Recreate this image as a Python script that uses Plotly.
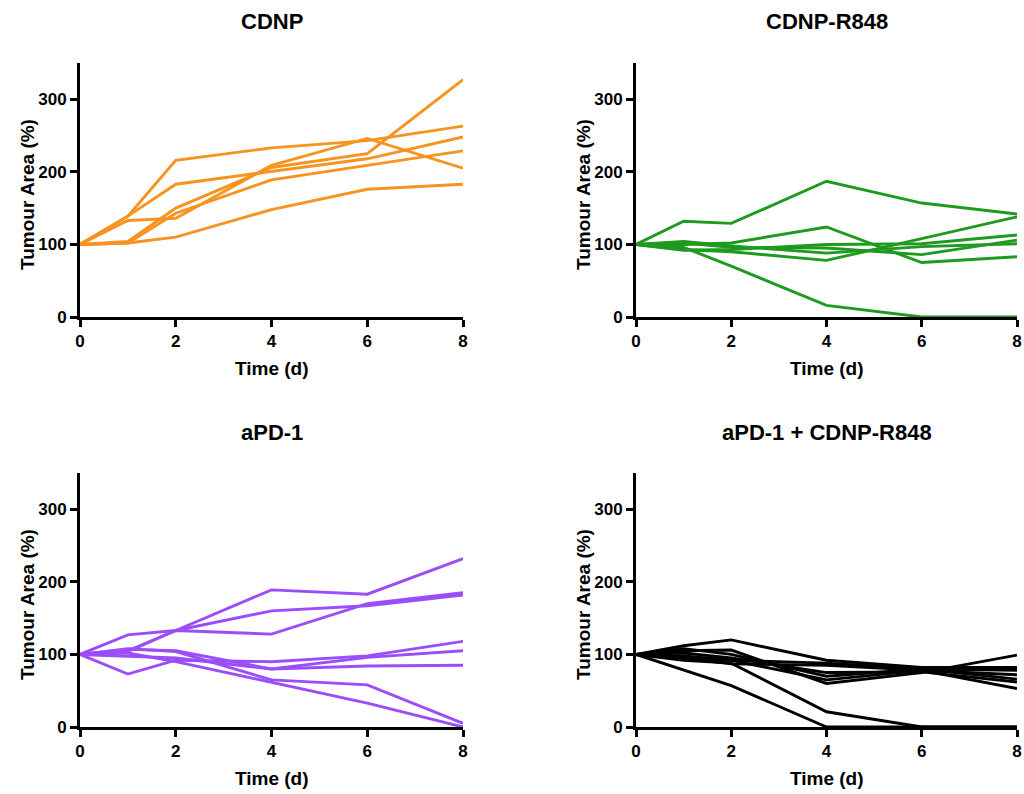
import plotly.graph_objects as go

time_days = [0, 1, 2, 4, 6, 8]

cdnp = [
    [100, 139, 216, 233, 243, 263],
    [100, 139, 183, 201, 218, 248],
    [100, 133, 136, 209, 246, 205],
    [100, 104, 150, 206, 225, 327],
    [100, 102, 143, 189, 209, 229],
    [100, 102, 110, 148, 176, 183],
]

cdnp_r848 = [
    [100, 132, 129, 187, 157, 142],
    [100, 96, 70, 16, 0, 0],
    [100, 100, 102, 124, 75, 83],
    [100, 93, 90, 78, 108, 138],
    [100, 102, 96, 95, 86, 106],
    [100, 92, 93, 100, 101, 113],
    [100, 104, 98, 88, 97, 101],
]

apd1 = [
    [100, 105, 133, 189, 183, 232],
    [100, 127, 133, 128, 170, 185],
    [100, 104, 133, 160, 167, 182],
    [100, 73, 92, 90, 98, 118],
    [100, 97, 95, 80, 96, 105],
    [100, 107, 105, 80, 84, 85],
    [100, 108, 104, 65, 58, 5],
    [100, 102, 90, 62, 33, 0],
]

apd1_cdnp_r848 = [
    [100, 112, 120, 92, 82, 82],
    [100, 79, 57, 0, 0, 0],
    [100, 92, 88, 21, 0, 0],
    [100, 105, 106, 60, 75, 99],
    [100, 98, 92, 65, 78, 53],
    [100, 102, 95, 75, 76, 62],
    [100, 95, 87, 85, 78, 72],
    [100, 108, 100, 70, 80, 78],
    [100, 94, 92, 88, 80, 66],
]

panel_titles = ["CDNP", "CDNP-R848", "aPD-1", "aPD-1 + CDNP-R848"]
panel_colors = ["#F7931E", "#1E9A1E", "#9B4DFA", "#000000"]
panel_data = [cdnp, cdnp_r848, apd1, apd1_cdnp_r848]
x_ticks = [0, 2, 4, 6, 8]
y_ticks = [0, 100, 200, 300]

W, H = 1024, 794
# pixel boxes of plot areas: (left, right, top, bottom)
boxes = [(80, 463, 63, 317), (636, 1017, 63, 317),
         (80, 463, 473, 727), (636, 1017, 473, 727)]

FONT = "Liberation Sans"
fig = go.Figure()
layout = dict(
    width=W, height=H, margin=dict(l=0, r=0, t=0, b=0, autoexpand=False),
    paper_bgcolor="white", plot_bgcolor="white", showlegend=False,
    font=dict(family=FONT, color="black"),
)
annotations = []
for i in range(4):
    xa = "x" if i == 0 else f"x{i+1}"
    ya = "y" if i == 0 else f"y{i+1}"
    for series in panel_data[i]:
        fig.add_trace(go.Scatter(x=time_days, y=series, mode="lines",
                                 line=dict(color=panel_colors[i], width=2.9),
                                 xaxis=xa, yaxis=ya, hoverinfo="skip"))
    l, r, t, b = boxes[i]
    axis_common = dict(showgrid=False, zeroline=False, showline=True,
                       linecolor="black", linewidth=3, ticks="outside",
                       ticklen=7, tickwidth=3, tickcolor="black", automargin=False,
                       tickfont=dict(family=FONT, size=17, color="black", weight="bold"))
    layout["xaxis" if i == 0 else f"xaxis{i+1}"] = dict(
        axis_common, domain=[l / W, r / W], range=[0, 8],
        tickvals=x_ticks, anchor=ya)
    layout["yaxis" if i == 0 else f"yaxis{i+1}"] = dict(
        axis_common, domain=[1 - b / H, 1 - t / H], range=[0, 350],
        tickvals=y_ticks, anchor=xa)
    cx = (l + r) / 2
    annotations.append(dict(text="<b>%s</b>" % panel_titles[i], x=cx / W,
                            y=1 - (t - 41) / H, xref="paper", yref="paper",
                            showarrow=False, xanchor="center", yanchor="middle",
                            font=dict(family=FONT, size=22, color="black")))
    annotations.append(dict(text="<b>Time (d)</b>", x=cx / W,
                            y=1 - (b + 51) / H, xref="paper", yref="paper",
                            showarrow=False, xanchor="center", yanchor="middle",
                            font=dict(family=FONT, size=19, color="black")))
    annotations.append(dict(text="<b>Tumour Area (%)</b>", x=(l - 53) / W,
                            y=1 - ((t + b) / 2 + 5) / H, xref="paper", yref="paper",
                            showarrow=False, xanchor="center", yanchor="middle",
                            textangle=-90,
                            font=dict(family=FONT, size=19, color="black")))
layout["annotations"] = annotations
fig.update_layout(**layout)
fig.write_html("out.html", config={"displayModeBar": False},
               post_script="document.body.style.margin='0';document.body.style.overflow='hidden';")
